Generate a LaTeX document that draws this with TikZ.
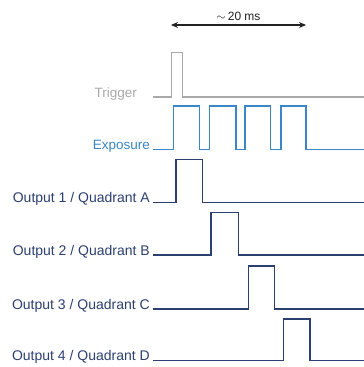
\documentclass[tikz,border=0pt]{standalone}
\usepackage{fontspec}
\setmainfont{Liberation Sans}
\usetikzlibrary{arrows.meta}
\definecolor{trig}{HTML}{A8A8A8}
\definecolor{expo}{HTML}{3A86C6}
\definecolor{outc}{HTML}{2B3F70}
\definecolor{dimc}{HTML}{222222}
\begin{document}
\begin{tikzpicture}[x=1pt,y=-1pt,
  lbl/.style={anchor=base east, inner sep=0pt, font=\fontsize{13.5}{16}\selectfont},
  olbl/.style={lbl, text=outc, font=\fontsize{14}{16}\selectfont},
  wave/.style={line width=1.3pt, line join=miter},
  dim/.style={{Stealth[length=7pt,width=6pt]}-{Stealth[length=7pt,width=6pt]}, line width=1.2pt, dimc}]
\useasboundingbox (0,0) rectangle (364,367);

% timing span
\coordinate (spanL) at (171,25);
\coordinate (spanR) at (306,25);
\draw[dim] (spanL) -- (spanR);
\node[inner sep=0pt, text=dimc, font=\fontsize{12}{14}\selectfont] (spanT) at (238.5,16) {$\sim$\,20 ms};

% trigger
\node[lbl, text=trig] (trigL) at (137,97) {Trigger};
\coordinate (trigS) at (153,97);
\coordinate (trigE) at (364,97);
\draw[wave, trig] (trigS) -| (171.7,52.7) -| (182.3,97) -- (trigE);

% exposure
\node[lbl, text=expo] (expoL) at (150,149.3) {Exposure};
\coordinate (expoS) at (153,149.3);
\coordinate (expoE) at (364,149.3);
\draw[wave, expo] (expoS) -| (173.3,106) -| (199.3,149.3) -| (209.3,106) -| (236,149.3)
  -| (245,106) -| (270.7,149.3) -| (281,106) -| (306,149.3) -- (expoE);

% outputs
\node[olbl] (outAL) at (150,202.7) {Output 1 / Quadrant A};
\coordinate (outAS) at (153,202.7);
\coordinate (outAE) at (364,202.7);
\draw[wave, outc] (outAS) -| (176,159.3) -| (202.7,202.7) -- (outAE);

\node[olbl] (outBL) at (150,255) {Output 2 / Quadrant B};
\coordinate (outBS) at (153,255);
\coordinate (outBE) at (364,255);
\draw[wave, outc] (outBS) -| (211,212.3) -| (238.3,255) -- (outBE);

\node[olbl] (outCL) at (150,309) {Output 3 / Quadrant C};
\coordinate (outCS) at (153,309);
\coordinate (outCE) at (364,309);
\draw[wave, outc] (outCS) -| (248.3,266) -| (274.3,309) -- (outCE);

\node[olbl] (outDL) at (150,360.7) {Output 4 / Quadrant D};
\coordinate (outDS) at (153,360.7);
\coordinate (outDE) at (364,360.7);
\draw[wave, outc] (outDS) -| (283.3,319) -| (310,360.7) -- (outDE);
\end{tikzpicture}
\end{document}
